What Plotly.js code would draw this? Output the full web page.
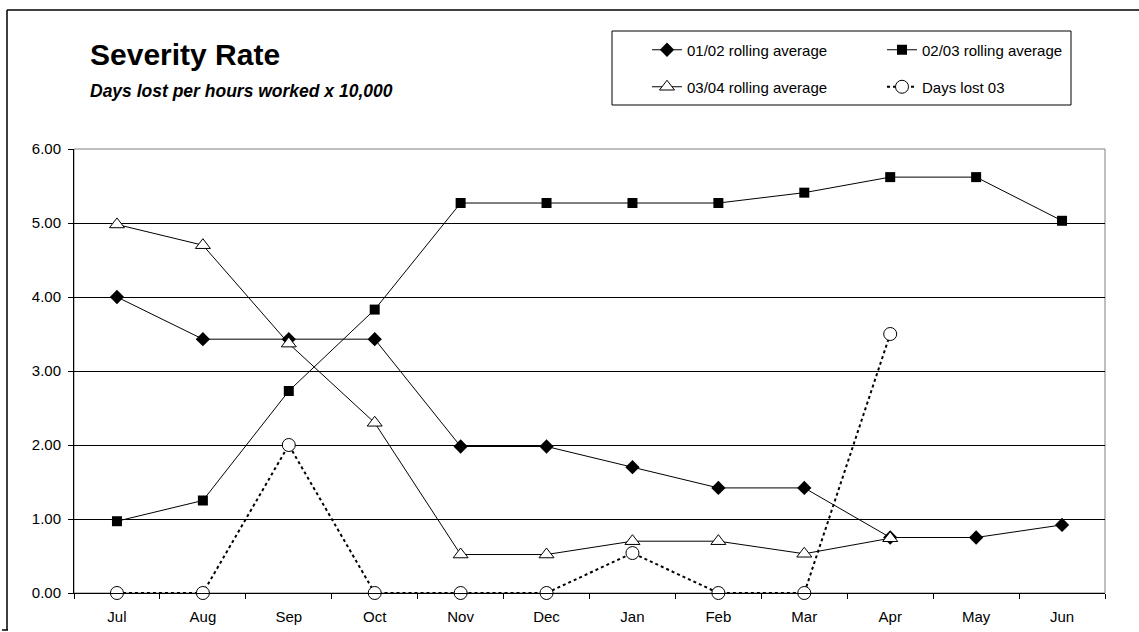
<!DOCTYPE html>
<html>
<head>
<meta charset="utf-8">
<script src="https://cdn.plot.ly/plotly-3.0.1.min.js"></script>
<style>html,body{margin:0;padding:0;background:#fff;}#chart{width:1139px;height:632px;}</style>
</head>
<body>
<div id="chart"></div>
<script>
var months = ["Jul","Aug","Sep","Oct","Nov","Dec","Jan","Feb","Mar","Apr","May","Jun"];
var avg0102 = [4.00,3.43,3.43,3.43,1.98,1.98,1.70,1.42,1.42,0.75,0.75,0.92];
var avg0203 = [0.97,1.25,2.73,3.83,5.27,5.27,5.27,5.27,5.41,5.62,5.62,5.03];
var avg0304 = [4.98,4.70,3.37,2.30,0.52,0.52,0.70,0.70,0.53,0.74,null,null];
var daysLost03 = [0,0,2.00,0,0,0,0.54,0,0,3.50,null,null];
var seriesNames = ["01/02 rolling average","02/03 rolling average","03/04 rolling average","Days lost 03"];
var yTicks = [0,1,2,3,4,5,6];

var FONT = "'Liberation Sans', Arial, sans-serif";

var traces = [
  {x: months, y: avg0102, name: seriesNames[0], type: 'scatter', mode: 'lines+markers', cliponaxis: false,
   line: {color: '#000', width: 1}, marker: {symbol: 'diamond', size: 11, color: '#000'}, legend: 'legend'},
  {x: months, y: avg0203, name: seriesNames[1], type: 'scatter', mode: 'lines+markers', cliponaxis: false,
   line: {color: '#000', width: 1}, marker: {symbol: 'square', size: 10, color: '#000'}, legend: 'legend'},
  {x: months, y: avg0304, name: seriesNames[2], type: 'scatter', mode: 'lines+markers', cliponaxis: false,
   line: {color: '#000', width: 1}, marker: {symbol: 'triangle-up', size: 13, color: '#fff', line: {color: '#000', width: 1}}, legend: 'legend2'},
  {x: months, y: daysLost03, name: seriesNames[3], type: 'scatter', mode: 'lines+markers', cliponaxis: false,
   line: {color: '#000', width: 2, dash: 'dot'}, marker: {symbol: 'circle', size: 13, color: '#fff', line: {color: '#000', width: 1}}, legend: 'legend2'}
];

var legendCommon = {
  orientation: 'h', xref: 'container', yref: 'container', xanchor: 'left', yanchor: 'middle',
  x: 647/1139, entrywidth: 190, entrywidthmode: 'pixels', bgcolor: 'rgba(0,0,0,0)', borderwidth: 0,
  font: {family: FONT, size: 15, color: '#000'}
};

var layout = {
  width: 1139, height: 632,
  margin: {l: 74, r: 34, t: 149, b: 39},
  paper_bgcolor: '#fff', plot_bgcolor: '#fff',
  font: {family: FONT, size: 15, color: '#000'},
  showlegend: true,
  legend: Object.assign({}, legendCommon, {y: 1 - 50/632}),
  legend2: Object.assign({}, legendCommon, {y: 1 - 87/632}),
  xaxis: {
    type: 'category', range: [-0.5, 11.5], autorange: false, showgrid: false, zeroline: false,
    showline: true, linecolor: '#000', linewidth: 1,
    ticks: 'outside', tickson: 'boundaries', ticklen: 5, tickcolor: '#000', tickwidth: 1,
    ticklabelstandoff: 10,
    tickfont: {family: FONT, size: 15, color: '#000'}
  },
  yaxis: {
    range: [0, 6], autorange: false, tickvals: yTicks, tickformat: '.2f',
    showgrid: true, gridcolor: '#000', gridwidth: 1, zeroline: false,
    showline: true, linecolor: '#000', linewidth: 1,
    ticks: 'outside', ticklen: 5, tickcolor: '#000', tickwidth: 1,
    ticklabelstandoff: 4,
    tickfont: {family: FONT, size: 15, color: '#000'}
  },
  annotations: [
    {text: '<b>Severity Rate</b>', xref: 'paper', yref: 'paper', x: (88-74)/1031, y: (593-55)/444,
     xanchor: 'left', yanchor: 'middle', showarrow: false, font: {family: FONT, size: 30, color: '#000'}},
    {text: '<b><i>Days lost per hours worked x 10,000</i></b>', xref: 'paper', yref: 'paper', x: (88-74)/1031, y: (593-91)/444,
     xanchor: 'left', yanchor: 'middle', showarrow: false, font: {family: FONT, size: 17.5, color: '#000'}}
  ],
  shapes: [
    {type: 'rect', xref: 'paper', yref: 'paper', x0: 0, x1: 1, y0: 0, y1: 1, layer: 'below',
     line: {color: '#808080', width: 1}},
    {type: 'rect', xref: 'paper', yref: 'paper', x0: (612-74)/1031, x1: (1071-74)/1031, y0: (593-105)/444, y1: (593-31)/444,
     line: {color: '#000', width: 1}},
    {type: 'line', xref: 'paper', yref: 'paper', x0: (7-74)/1031, x1: (7-74)/1031, y0: (593-10)/444, y1: (593-630)/444,
     line: {color: '#000', width: 1.5}},
    {type: 'line', xref: 'paper', yref: 'paper', x0: (7-74)/1031, x1: (1145-74)/1031, y0: (593-10)/444, y1: (593-10)/444,
     line: {color: '#000', width: 1.5}},
    {type: 'line', xref: 'paper', yref: 'paper', x0: (2-74)/1031, x1: (8-74)/1031, y0: (593-630)/444, y1: (593-630)/444,
     line: {color: '#000', width: 1.5}}
  ]
};

Plotly.newPlot('chart', traces, layout, {displayModeBar: false, staticPlot: true});
</script>
</body>
</html>
